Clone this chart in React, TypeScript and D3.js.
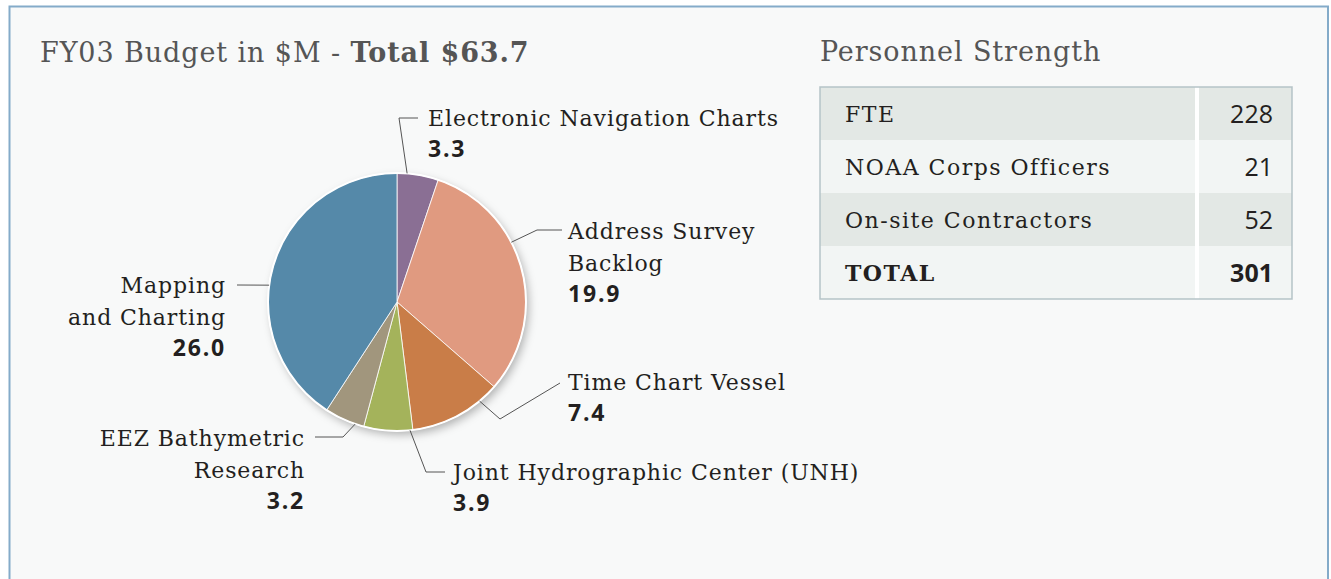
import React from "react";
import * as d3 from "d3";

// ---------- data ----------
const categories = [
  "Electronic Navigation Charts",
  "Address Survey Backlog",
  "Time Chart Vessel",
  "Joint Hydrographic Center (UNH)",
  "EEZ Bathymetric Research",
  "Mapping and Charting",
];
const categoryLines = [
  ["Electronic Navigation Charts"],
  ["Address Survey", "Backlog"],
  ["Time Chart Vessel"],
  ["Joint Hydrographic Center (UNH)"],
  ["EEZ Bathymetric", "Research"],
  ["Mapping", "and Charting"],
];
const budget = [3.3, 19.9, 7.4, 3.9, 3.2, 26.0];
const sliceColors = ["#8a6f94", "#e09a80", "#c97d48", "#a4b35b", "#a1967d", "#5589a9"];

const personnelLabels = ["FTE", "NOAA Corps Officers", "On-site Contractors", "TOTAL"];
const personnelValues = [228, 21, 52, 301];

const budgetTitle = "FY03 Budget in $M - ";
const budgetTotalTitle = "Total $63.7";
const personnelTitle = "Personnel Strength";

// ---------- layout ----------
const W = 1331;
const H = 579;
const cx = 397;
const cy = 302;
const R = 129;

// label layout: anchor angle (deg, clockwise from top), elbow, end, text pos
const labelLayout = [
  { angle: 4.5, elbow: [399, 118], end: [418, 118], tx: 428, ty: 126, anchor: "start" },
  { angle: 62.4, elbow: [537, 230], end: [562, 230], tx: 568, ty: 239, anchor: "start" },
  { angle: 140.2, elbow: [500, 419], end: [560, 383], tx: 568, ty: 390, anchor: "start" },
  { angle: 174.2, elbow: [426, 472], end: [445, 472], tx: 453, ty: 480, anchor: "start" },
  { angle: 198.9, elbow: [343, 437], end: [315, 437], tx: 305, ty: 446, anchor: "end" },
  { angle: 277.5, elbow: [237, 285], end: [237, 285], tx: 226, ty: 293, anchor: "end" },
];

const serif = "'DejaVu Serif', serif";
const sans = "'Open Sans', 'DejaVu Sans', sans-serif";

export default function App() {
  const pie = d3.pie<number>().sort(null).value((d) => d);
  const arcs = pie(budget);
  const arc = d3.arc<d3.PieArcDatum<number>>().innerRadius(0).outerRadius(R);

  const tableX = 820;
  const tableW = 472;
  const colX = 1197;
  const rowY = d3
    .scaleBand<number>()
    .domain(personnelLabels.map((_, i) => i))
    .range([87, 299])
    .padding(0);

  return (
    <svg
      width={W}
      height={H}
      style={{ position: "fixed", left: 0, top: 0, display: "block", background: "#ffffff" }}
    >
      <defs>
        <filter id="pieShadow" x="-20%" y="-20%" width="150%" height="150%">
          <feDropShadow dx="3" dy="4" stdDeviation="4" floodColor="#000" floodOpacity="0.28" />
        </filter>
      </defs>
      <rect x={9.5} y={6.5} width={1318.5} height={620} fill="#f8f9f9" stroke="#84abc9" strokeWidth={2} />

      {/* Titles */}
      <text x={40} y={62} fontFamily={serif} fontSize={27} fill="#555555" letterSpacing={0.9}>
        {budgetTitle}
        <tspan fontWeight="bold">{budgetTotalTitle}</tspan>
      </text>
      <text x={820} y={61} fontFamily={serif} fontSize={27} fill="#555555" letterSpacing={0.9}>
        {personnelTitle}
      </text>

      {/* Pie */}
      <g transform={`translate(${cx},${cy})`}>
        <circle r={R} fill="#fff" filter="url(#pieShadow)" />
        {arcs.map((a, i) => (
          <path key={categories[i]} d={arc(a) || ""} fill={sliceColors[i]} stroke="#ffffff" strokeWidth={0.8} />
        ))}
        <circle r={R} fill="none" stroke="#ffffff" strokeWidth={2} />
      </g>

      {/* Leader lines & labels */}
      {labelLayout.map((l, i) => {
        const rad = (l.angle * Math.PI) / 180;
        const sx = cx + R * Math.sin(rad);
        const sy = cy - R * Math.cos(rad);
        const pts = [[sx, sy], l.elbow, l.end];
        const line = d3.line()(pts as [number, number][]) || "";
        const lines = categoryLines[i];
        return (
          <g key={categories[i]}>
            <path d={line} fill="none" stroke="#555" strokeWidth={1} />
            <text fontFamily={serif} fontSize={22} fill="#231f20" textAnchor={l.anchor} letterSpacing={0.9}>
              {lines.map((t, j) => (
                <tspan key={j} x={l.tx} y={l.ty + j * 32}>
                  {t}
                </tspan>
              ))}
            </text>
            <text
              x={l.tx}
              y={l.ty + lines.length * 32 - 1}
              fontFamily={sans}
              fontWeight="bold"
              fontSize={23}
              fill="#231f20"
              textAnchor={l.anchor}
              letterSpacing={1.8}
            >
              {budget[i].toFixed(1)}
            </text>
          </g>
        );
      })}

      {/* Table */}
      <g>
        {personnelLabels.map((lab, i) => {
          const y = rowY(i) as number;
          const h = rowY.bandwidth();
          const fill = i % 2 === 0 ? "#e3e8e5" : "#f2f5f4";
          const bold = i === personnelLabels.length - 1;
          return (
            <g key={lab}>
              <rect x={tableX} y={y} width={tableW} height={h} fill={fill} />
              <text
                x={845}
                y={y + h / 2 + 8}
                fontFamily={serif}
                fontSize={22}
                fontWeight={bold ? "bold" : "normal"}
                fill="#231f20"
                letterSpacing={1.5}
              >
                {lab}
              </text>
              <text
                x={1273}
                y={y + h / 2 + 9}
                fontFamily={sans}
                fontSize={25}
                fontWeight={bold ? "bold" : "normal"}
                fill="#231f20"
                textAnchor="end"
              >
                {personnelValues[i]}
              </text>
            </g>
          );
        })}
        <line x1={colX} x2={colX} y1={87} y2={299} stroke="#ffffff" strokeWidth={4} />
        <rect x={tableX} y={87} width={tableW} height={212} fill="none" stroke="#b5c3c7" strokeWidth={1.5} />
      </g>
    </svg>
  );
}
